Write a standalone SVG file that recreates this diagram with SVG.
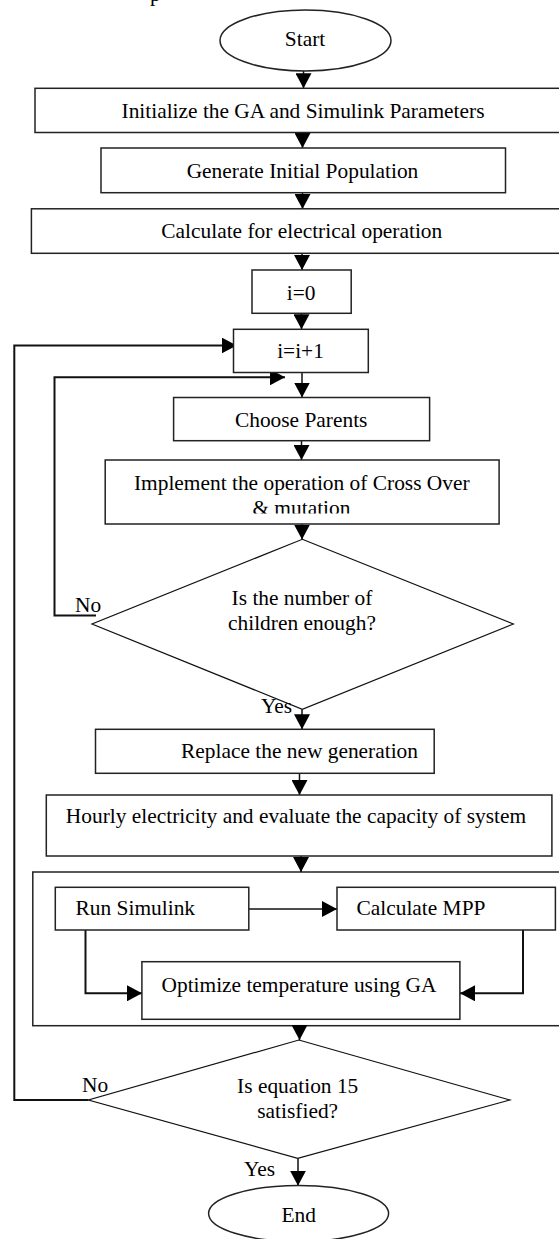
<svg xmlns="http://www.w3.org/2000/svg" width="559" height="1239" viewBox="0 0 559 1239">
<style>
.bx{fill:#fff;stroke:#222;stroke-width:1.5}
.frame{fill:none;stroke:#222;stroke-width:1.5}
.dm{fill:#fff;stroke:#111;stroke-width:1.2}
.t{font-family:"Liberation Serif","Times New Roman",serif;font-size:21.4px;fill:#000}
.m{text-anchor:middle}
.c{fill:none;stroke:#111;stroke-width:1.5}
.lp{fill:none;stroke:#111;stroke-width:2}
</style>
<defs>
<marker id="ah" markerUnits="userSpaceOnUse" markerWidth="15" markerHeight="16" viewBox="0 0 15 16" refX="15" refY="8" orient="auto">
<path d="M0,0 L15,8 L0,16 Z" fill="#000"/>
</marker>
<clipPath id="clipMut"><rect x="100" y="495" width="400" height="18.5"/></clipPath>
</defs>
<rect width="559" height="1239" fill="#fff"/>
<text class="t" x="150" y="1">p</text>
<g id="container"><rect class="frame" x="32.8" y="872" width="540" height="153.7"/></g>
<g id="connectors">
<path class="c" d="M303.5,71 V88.3" marker-end="url(#ah)"/>
<path class="c" d="M302.5,132.5 V148" marker-end="url(#ah)"/>
<path class="c" d="M302.5,193 V209" marker-end="url(#ah)"/>
<path class="c" d="M302,253.3 V270" marker-end="url(#ah)"/>
<path class="c" d="M301.5,313.3 V329.3" marker-end="url(#ah)"/>
<path class="c" d="M302,372.5 V397.5" marker-end="url(#ah)"/>
<path class="c" d="M301.5,440.7 V460" marker-end="url(#ah)"/>
<path class="c" d="M302,524 V539.5" marker-end="url(#ah)"/>
<path class="c" d="M302,709.3 V729.3" marker-end="url(#ah)"/>
<path class="c" d="M299.5,773.3 V795" marker-end="url(#ah)"/>
<path class="c" d="M301,856 V872" marker-end="url(#ah)"/>
<path class="c" d="M249,909 H337" marker-end="url(#ah)"/>
<path class="lp" d="M85.5,930 V993.3 H142" marker-end="url(#ah)"/>
<path class="lp" d="M523,930 V993.3 H460" marker-end="url(#ah)"/>
<path class="c" d="M299.5,1025.7 V1040" marker-end="url(#ah)"/>
<path class="c" d="M298,1158.3 V1185.7" marker-end="url(#ah)"/>
<path class="lp" d="M96,615.5 H54.5 V377.3 H285" marker-end="url(#ah)"/>
<path class="lp" d="M88.4,1100 H14.3 V345.5 H236.7" marker-end="url(#ah)"/>
</g>
<g id="start"><ellipse class="bx" cx="305.5" cy="40.5" rx="85.5" ry="30.5"/><text class="t m" x="305" y="45.7">Start</text></g>
<g id="init"><rect class="bx" x="35" y="88.3" width="530" height="44.2"/><text class="t m" x="303" y="118.3">Initialize the GA and Simulink Parameters</text></g>
<g id="generate"><rect class="bx" x="101" y="148" width="404.5" height="44.7"/><text class="t m" x="302.5" y="178.3">Generate Initial Population</text></g>
<g id="calculate"><rect class="bx" x="31.4" y="208.8" width="540" height="44.5"/><text class="t m" x="301.8" y="238.3">Calculate for electrical operation</text></g>
<g id="i0"><rect class="bx" x="252" y="270" width="99.2" height="43.3"/><text class="t m" x="301.2" y="300">i=0</text></g>
<g id="i1"><rect class="bx" x="233.5" y="329.3" width="134.8" height="43.2"/><text class="t m" x="300.5" y="358.3">i=i+1</text></g>
<g id="parents"><rect class="bx" x="173.6" y="397.5" width="256" height="43.2"/><text class="t m" x="301.2" y="426.7">Choose Parents</text></g>
<g id="crossover"><rect class="bx" x="105.2" y="460" width="393.9" height="64"/><text class="t m" x="301.8" y="490">Implement the operation of Cross Over</text><text class="t m" x="301.4" y="515" clip-path="url(#clipMut)">&amp; mutation</text></g>
<g id="decision1"><polygon class="dm" points="302.3,539.3 513.4,624 302.3,709.3 92,624"/><text class="t m" x="302" y="605">Is the number of</text><text class="t m" x="302" y="630">children enough?</text><text class="t" x="75" y="611.7">No</text><text class="t" x="261" y="713.3">Yes</text></g>
<g id="replace"><rect class="bx" x="95.5" y="729.3" width="338.7" height="44"/><text class="t m" x="299.5" y="758.3">Replace the new generation</text></g>
<g id="hourly"><rect class="bx" x="46.3" y="795" width="505.6" height="61"/><text class="t m" x="296" y="823.3">Hourly electricity and evaluate the capacity of system</text></g>
<g id="runsim"><rect class="bx" x="55.3" y="887.3" width="193.5" height="42.7"/><text class="t" x="75.6" y="915">Run Simulink</text></g>
<g id="mpp"><rect class="bx" x="337" y="887.3" width="218.4" height="42.7"/><text class="t" x="356.5" y="915">Calculate MPP</text></g>
<g id="optimize"><rect class="bx" x="141.9" y="961.7" width="318" height="57.6"/><text class="t m" x="299" y="991.7">Optimize temperature using GA</text></g>
<g id="decision2"><polygon class="dm" points="298.8,1040 509.8,1100 297.7,1158.3 88.4,1100"/><text class="t m" x="297.7" y="1093.3">Is equation 15</text><text class="t m" x="297.7" y="1118.3">satisfied?</text><text class="t" x="82" y="1091.7">No</text><text class="t" x="244" y="1176">Yes</text></g>
<g id="end"><ellipse class="bx" cx="298.6" cy="1213.5" rx="90" ry="28"/><text class="t m" x="298.7" y="1221.7">End</text></g>
</svg>
